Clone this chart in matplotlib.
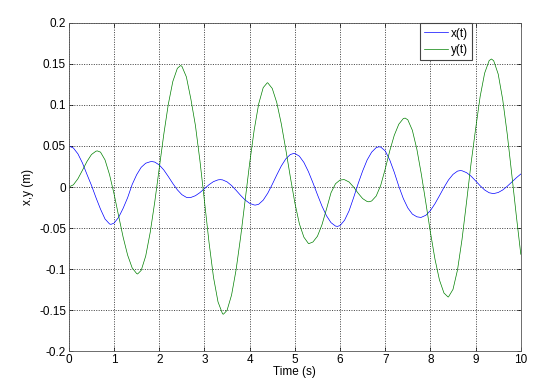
import matplotlib
matplotlib.use('Agg')
import matplotlib.pyplot as plt

plt.rcParams['font.family'] = ['Liberation Sans', 'DejaVu Sans']
plt.rcParams['font.size'] = 8

# readings taken off the reference plot (time in s, displacement in m)
t_x = [0.0, 0.1, 0.2, 0.3, 0.4, 0.5, 0.6, 0.7, 0.8, 0.9, 0.93,
       1.0, 1.1, 1.2, 1.3, 1.4, 1.5, 1.6, 1.7, 1.8, 1.84, 1.9,
       2.0, 2.1, 2.2, 2.3, 2.4, 2.5, 2.6, 2.65, 2.7, 2.8, 2.9,
       3.0, 3.1, 3.2, 3.3, 3.35, 3.4, 3.5, 3.6, 3.7, 3.8, 3.9,
       4.0, 4.1, 4.13, 4.2, 4.3, 4.4, 4.5, 4.6, 4.7, 4.8, 4.9, 4.98,
       5.0, 5.1, 5.2, 5.3, 5.4, 5.5, 5.6, 5.7, 5.8, 5.9, 5.94,
       6.0, 6.1, 6.2, 6.3, 6.4, 6.5, 6.6, 6.7, 6.8, 6.86, 6.9,
       7.0, 7.1, 7.2, 7.3, 7.4, 7.5, 7.6, 7.7, 7.78, 7.8, 7.9,
       8.0, 8.1, 8.2, 8.3, 8.4, 8.5, 8.6, 8.66, 8.7, 8.8, 8.9,
       9.0, 9.1, 9.2, 9.3, 9.39, 9.4, 9.5, 9.6, 9.7, 9.8, 9.9, 10.0]
x_vals = [0.0500, 0.0475, 0.0404, 0.0293, 0.0154, 0.0020, -0.0130, -0.0270, -0.0390, -0.0450, -0.0455,
          -0.0440, -0.0370, -0.0260, -0.0130, 0.0030, 0.0150, 0.0240, 0.0290, 0.0308, 0.0310, 0.0304,
          0.0269, 0.0208, 0.0128, 0.0043, -0.0034, -0.0093, -0.0126, -0.0130, -0.0127, -0.0106, -0.0068,
          -0.0020, 0.0028, 0.0066, 0.0087, 0.0090, 0.0087, 0.0063, 0.0018, -0.0040, -0.0102, -0.0158,
          -0.0199, -0.0219, -0.0220, -0.0210, -0.0160, -0.0076, 0.0032, 0.0147, 0.0256, 0.0343, 0.0396, 0.0410,
          0.0409, 0.0376, 0.0300, 0.0188, 0.0052, -0.0093, -0.0232, -0.0350, -0.0434, -0.0476, -0.0480,
          -0.0470, -0.0405, -0.0290, -0.0130, 0.0040, 0.0195, 0.0330, 0.0425, 0.0480, 0.0490, 0.0487,
          0.0440, 0.0330, 0.0180, 0.0010, -0.0140, -0.0255, -0.0330, -0.0363, -0.0370, -0.0369, -0.0344,
          -0.0287, -0.0204, -0.0106, -0.0005, 0.0086, 0.0154, 0.0194, 0.0200, 0.0198, 0.0175, 0.0132,
          0.0075, 0.0016, -0.0036, -0.0070, -0.0080, -0.0080, -0.0067, -0.0036, 0.0009, 0.0060, 0.0112, 0.0158]

t_y = [0.0, 0.1, 0.2, 0.3, 0.4, 0.5, 0.6, 0.63, 0.7, 0.8, 0.9,
       1.0, 1.1, 1.2, 1.3, 1.4, 1.5, 1.52, 1.6, 1.7, 1.8, 1.9,
       2.0, 2.1, 2.2, 2.3, 2.4, 2.47, 2.5, 2.6, 2.7, 2.8, 2.9,
       3.0, 3.1, 3.2, 3.3, 3.4, 3.42, 3.5, 3.6, 3.7, 3.8, 3.9,
       4.0, 4.1, 4.2, 4.3, 4.39, 4.4, 4.5, 4.6, 4.7, 4.8, 4.9,
       5.0, 5.1, 5.2, 5.3, 5.31, 5.4, 5.5, 5.6, 5.7, 5.8, 5.9,
       6.0, 6.08, 6.1, 6.2, 6.3, 6.4, 6.5, 6.6, 6.64, 6.7, 6.8, 6.9,
       7.0, 7.1, 7.2, 7.3, 7.4, 7.44, 7.5, 7.6, 7.7, 7.8, 7.9,
       8.0, 8.1, 8.2, 8.3, 8.39, 8.4, 8.5, 8.6, 8.7, 8.8, 8.9,
       9.0, 9.1, 9.2, 9.3, 9.35, 9.4, 9.5, 9.6, 9.7, 9.8, 9.9, 10.0]
y_vals = [0.0000, 0.0027, 0.0101, 0.0204, 0.0311, 0.0396, 0.0437, 0.0440, 0.0425, 0.0330, 0.0150,
          -0.0085, -0.0350, -0.0610, -0.0830, -0.0985, -0.1055, -0.1060, -0.1016, -0.0841, -0.0552, -0.0183,
          0.0230, 0.0642, 0.1008, 0.1286, 0.1446, 0.1480, 0.1472, 0.1342, 0.1070, 0.0750, 0.0320,
          -0.0170, -0.0670, -0.1100, -0.1400, -0.1545, -0.1550, -0.1503, -0.1316, -0.1009, -0.0611, -0.0162,
          0.0289, 0.0694, 0.1013, 0.1211, 0.1270, 0.1270, 0.1201, 0.1029, 0.0771, 0.0457, 0.0123,
          -0.0192, -0.0448, -0.0611, -0.0688, -0.0690, -0.0670, -0.0600, -0.0460, -0.0270, -0.0070, 0.0040,
          0.0085, 0.0090, 0.0089, 0.0061, 0.0000, -0.0075, -0.0141, -0.0177, -0.0180, -0.0170, -0.0110, 0.0020,
          0.0220, 0.0440, 0.0630, 0.0765, 0.0834, 0.0840, 0.0819, 0.0692, 0.0461, 0.0153, -0.0196,
          -0.0551, -0.0877, -0.1133, -0.1292, -0.1340, -0.1339, -0.1247, -0.1009, -0.0636, -0.0180, 0.0292,
          0.0707, 0.1101, 0.1388, 0.1541, 0.1560, 0.1539, 0.1376, 0.1065, 0.0645, 0.0156, -0.0346, -0.0820]

xticks = list(range(0, 11))
yticks = [-0.2, -0.15, -0.1, -0.05, 0, 0.05, 0.1, 0.15, 0.2]
ytick_labels = ['-0.2', '-0.15', '-0.1', '-0.05', '0', '0.05', '0.1', '0.15', '0.2']

fig = plt.figure(figsize=(5.6, 3.88), dpi=100)
ax = fig.add_axes([0.123, 0.095, 0.807, 0.846])

ax.plot(t_x, x_vals, color=(0, 0, 1), lw=0.5, label='x(t)')
ax.plot(t_y, y_vals, color=(0, 0.5, 0), lw=0.5, label='y(t)')

ax.set_xlim(0, 10)
ax.set_ylim(-0.2, 0.2)
ax.set_xticks(xticks)
ax.set_yticks(yticks)
ax.set_yticklabels(ytick_labels)
ax.tick_params(direction='in', top=True, right=True, length=3, width=0.5, labelsize=8.5, pad=2)
ax.grid(True, color='black', linestyle=(0, (1.5, 2)), lw=0.5)
for s in ax.spines.values():
    s.set_linewidth(0.6)
    s.set_color('#555555')

ax.set_xlabel('Time (s)', fontsize=8.5, labelpad=0)
ax.set_ylabel('x,y (m)', fontsize=8.5, labelpad=4)

leg = ax.legend(loc='upper right', bbox_to_anchor=(0.894, 1.0), fancybox=False, framealpha=1,
                edgecolor='#444444', fontsize=8.5, handlelength=1.95, borderpad=0.35,
                labelspacing=0.35, handletextpad=0.3, borderaxespad=0.05)
leg.get_frame().set_linewidth(0.8)

fig.savefig('out.png', dpi=100)
